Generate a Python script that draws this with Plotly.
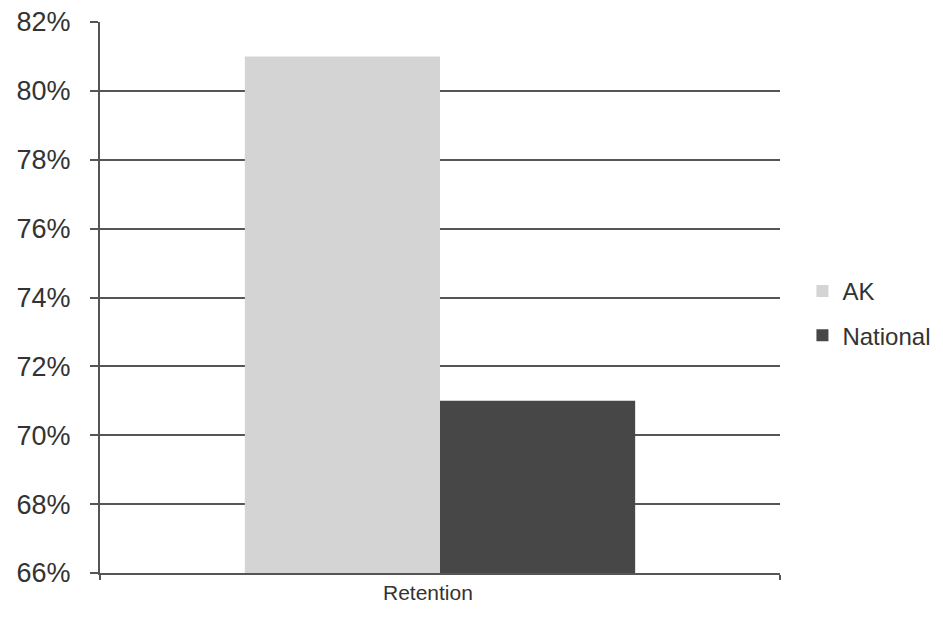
import plotly.graph_objects as go

categories = ["Retention"]
ak_values = [0.81]
national_values = [0.71]
tick_values = [0.66, 0.68, 0.70, 0.72, 0.74, 0.76, 0.78, 0.80, 0.82]

FONT = "Liberation Sans, Arial, sans-serif"

fig = go.Figure()
fig.add_trace(go.Bar(x=categories, y=ak_values, name="AK", legendgroup="ak",
                     marker=dict(color="#d4d4d4", line=dict(width=0))))
fig.add_trace(go.Bar(x=categories, y=national_values, name="National", legendgroup="nat",
                     marker=dict(color="#474747", line=dict(width=0))))

# category label drawn as text, sitting slightly left of centre like the original
fig.add_annotation(x=categories[0], y=0, xref="x", yref="paper",
                   yanchor="top", xshift=-12, yshift=-6, showarrow=False,
                   text=categories[0], font=dict(size=21, color="#333333"))

fig.update_layout(
    width=951, height=626,
    margin=dict(l=92, r=179, t=14, b=61, autoexpand=False),
    barmode="group",
    bargap=0.426,
    bargroupgap=0,
    plot_bgcolor="white",
    paper_bgcolor="white",
    font=dict(family=FONT, size=20, color="#333333"),
    showlegend=True,
    legend=dict(x=1.033, y=0.471, xanchor="left", yanchor="middle",
                font=dict(size=24, color="#333333"), traceorder="grouped",
                tracegroupgap=10, itemsizing="constant"),
    xaxis=dict(showline=True, linecolor="#555555", linewidth=2,
               ticks="outside", tickson="boundaries", ticklen=5,
               tickcolor="#555555", tickwidth=1.5,
               showticklabels=False, automargin=False),
    yaxis=dict(range=[0.66, 0.82], tickvals=tick_values, tickformat=".0%",
               showgrid=True, gridcolor="#555555", gridwidth=1.5,
               showline=True, linecolor="#555555", linewidth=2,
               ticks="outside", ticklen=8, tickcolor="#555555", tickwidth=1.5,
               ticklabelstandoff=14, ticklabeloverflow="allow",
               zeroline=False, tickfont=dict(size=27), automargin=False),
)

fig.write_html("out.html")
